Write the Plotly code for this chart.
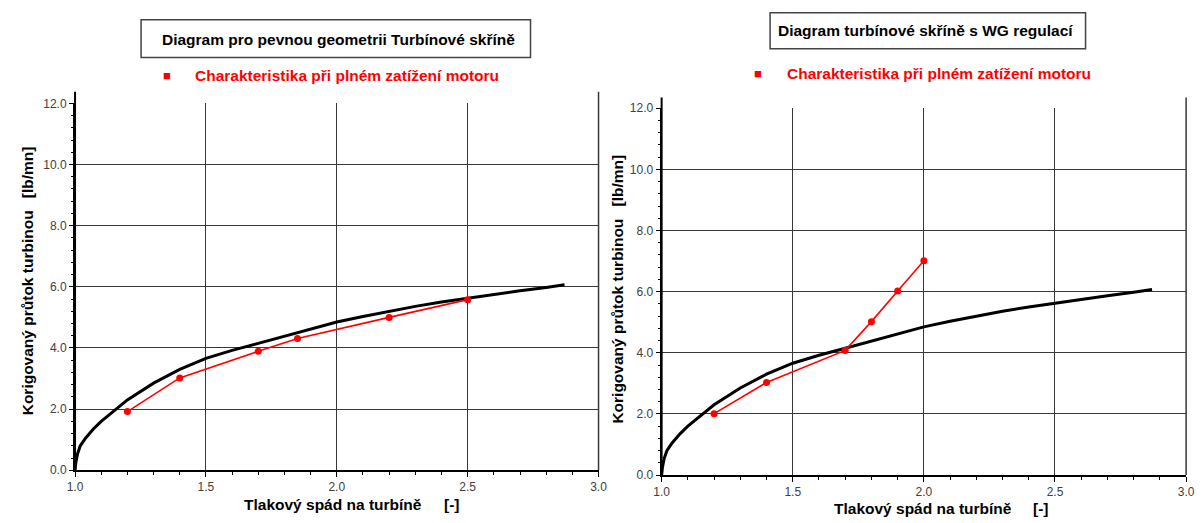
import plotly.graph_objects as go

# ---------------- data ----------------
curve_x = [1.0, 1.003, 1.01, 1.02, 1.04, 1.07, 1.1, 1.15, 1.2, 1.3, 1.4, 1.5, 1.6, 1.7,
           1.8, 1.9, 2.0, 2.1, 2.2, 2.3, 2.4, 2.5, 2.6, 2.7, 2.8, 2.87]
curve_y = [0.0, 0.25, 0.55, 0.8, 1.05, 1.35, 1.6, 1.95, 2.3, 2.85, 3.3, 3.66, 3.92, 4.15,
           4.38, 4.62, 4.85, 5.03, 5.2, 5.36, 5.5, 5.63, 5.75, 5.87, 5.98, 6.07]

fixed_x = [1.2, 1.4, 1.7, 1.85, 2.2, 2.5]
fixed_y = [1.92, 3.02, 3.89, 4.31, 5.0, 5.58]

wg_x = [1.2, 1.4, 1.7, 1.8, 1.9, 2.0]
wg_y = [2.01, 3.03, 4.08, 5.02, 6.02, 7.01]

chart_titles = ["Diagram pro pevnou geometrii Turbínové skříně",
                "Diagram turbínové skříně s WG regulací"]
legend_text = "Charakteristika při plném zatížení motoru"
x_title = "Tlakový spád na turbíně"
x_unit = "[-]"
y_title = "Korigovaný průtok turbinou"
y_unit = "[lb/mn]"

# ---------------- layout helpers ----------------
W, H = 1203, 523
FONT = "Liberation Sans, Arial, sans-serif"
TXT = 15.5
GRID = "#383838"


def px(x):
    return x / W


def py(y):
    return 1 - y / H


fig = go.Figure()

fig.add_trace(go.Scatter(x=curve_x, y=curve_y, mode="lines", xaxis="x", yaxis="y",
                         line=dict(color="black", width=3), showlegend=False))
fig.add_trace(go.Scatter(x=fixed_x, y=fixed_y, mode="lines+markers", xaxis="x", yaxis="y",
                         line=dict(color="#ff0000", width=1.6),
                         marker=dict(color="#ff0000", size=7), showlegend=False))
fig.add_trace(go.Scatter(x=curve_x, y=curve_y, mode="lines", xaxis="x2", yaxis="y2",
                         line=dict(color="black", width=3), showlegend=False))
fig.add_trace(go.Scatter(x=wg_x, y=wg_y, mode="lines+markers", xaxis="x2", yaxis="y2",
                         line=dict(color="#ff0000", width=1.6),
                         marker=dict(color="#ff0000", size=7), showlegend=False))

tickfont = dict(family=FONT, size=12, color="#404040")


def xax(domain, anchor):
    return dict(domain=domain, anchor=anchor, range=[1.0, 3.0], dtick=0.5, tick0=1.0,
                tickformat=".1f", showgrid=True, gridcolor=GRID, gridwidth=1.4,
                zeroline=False, showline=True, linecolor="black", linewidth=1.5,
                ticks="outside", ticklen=5, tickcolor="black", tickwidth=1.2,
                tickfont=tickfont,
                minor=dict(dtick=0.1, ticks="outside", ticklen=3, tickcolor="black",
                           tickwidth=1, showgrid=False))


def yax(domain, anchor):
    return dict(domain=domain, anchor=anchor, range=[0, 12], dtick=2, tick0=0,
                tickformat=".1f", showgrid=True, gridcolor=GRID, gridwidth=1.4,
                zeroline=False, showline=True, linecolor="black", linewidth=2,
                ticks="outside", ticklen=4, tickcolor="black", tickwidth=1.2,
                tickfont=tickfont,
                minor=dict(dtick=0.4, ticks="outside", ticklen=2, tickcolor="black",
                           tickwidth=1, showgrid=False))


shapes = []
annotations = []

panels = [
    dict(xa="x", ya="y", xl=68, xr=599, yt=99, yb=476, ext=12,
         box=(135, 530, 13, 52), title_c=(335, 33),
         leg_sq=(161, 70), leg_tx=(188, 70),
         xt=(330, 511), xu=(450, 511), yt_=(20, 314), yu=(20, 170)),
    dict(xa="x2", ya="y2", xl=663, xr=1195, yt=104, yb=481, ext=11,
         box=(773, 1093, 6, 43), title_c=(931, 24),
         leg_sq=(761, 68), leg_tx=(788, 68),
         xt=(928, 515), xu=(1048, 515), yt_=(618, 323), yu=(618, 178)),
]

layout_axes = {}
for i, p in enumerate(panels):
    suffix = "" if i == 0 else "2"
    layout_axes["xaxis" + suffix] = xax([px(p["xl"]), px(p["xr"])], p["ya"])
    layout_axes["yaxis" + suffix] = yax([py(p["yb"]), py(p["yt"])], p["xa"])
    ext = 1 + p["ext"] / (p["yb"] - p["yt"])
    # axis lines extending above the 12.0 gridline
    shapes.append(dict(type="line", xref=p["xa"] + " domain", yref=p["ya"] + " domain",
                       x0=0, x1=0, y0=0, y1=ext, line=dict(color="black", width=2)))
    shapes.append(dict(type="line", xref=p["xa"] + " domain", yref=p["ya"] + " domain",
                       x0=1, x1=1, y0=0, y1=ext, line=dict(color=GRID, width=1.5)))
    # title box
    bx0, bx1, by0, by1 = p["box"]
    shapes.append(dict(type="rect", xref="paper", yref="paper",
                       x0=px(bx0), x1=px(bx1), y0=py(by1), y1=py(by0),
                       line=dict(color="#444444", width=1.5), fillcolor="white"))
    annotations.append(dict(xref="paper", yref="paper", x=px(p["title_c"][0]),
                            y=py(p["title_c"][1]), text="<b>" + chart_titles[i] + "</b>",
                            showarrow=False, xanchor="center", yanchor="middle",
                            font=dict(family=FONT, size=TXT, color="black")))
    # legend
    annotations.append(dict(xref="paper", yref="paper", x=px(p["leg_sq"][0]),
                            y=py(p["leg_sq"][1]), text="■", showarrow=False,
                            xanchor="center", yanchor="middle",
                            font=dict(family=FONT, size=13, color="#ff0000")))
    annotations.append(dict(xref="paper", yref="paper", x=px(p["leg_tx"][0]),
                            y=py(p["leg_tx"][1]), text="<b>" + legend_text + "</b>",
                            showarrow=False, xanchor="left", yanchor="middle",
                            font=dict(family=FONT, size=TXT, color="#ff0000")))
    # axis titles
    annotations.append(dict(xref="paper", yref="paper", x=px(p["xt"][0]), y=py(p["xt"][1]),
                            text="<b>" + x_title + "</b>", showarrow=False,
                            xanchor="center", yanchor="middle",
                            font=dict(family=FONT, size=TXT, color="black")))
    annotations.append(dict(xref="paper", yref="paper", x=px(p["xu"][0]), y=py(p["xu"][1]),
                            text="<b>" + x_unit + "</b>", showarrow=False,
                            xanchor="center", yanchor="middle",
                            font=dict(family=FONT, size=TXT, color="black")))
    annotations.append(dict(xref="paper", yref="paper", x=px(p["yt_"][0]), y=py(p["yt_"][1]),
                            text="<b>" + y_title + "</b>", showarrow=False, textangle=-90,
                            xanchor="center", yanchor="middle",
                            font=dict(family=FONT, size=TXT, color="black")))
    annotations.append(dict(xref="paper", yref="paper", x=px(p["yu"][0]), y=py(p["yu"][1]),
                            text="<b>" + y_unit + "</b>", showarrow=False, textangle=-90,
                            xanchor="center", yanchor="middle",
                            font=dict(family=FONT, size=TXT, color="black")))

fig.update_layout(
    width=W, height=H, margin=dict(l=0, r=0, t=0, b=0),
    paper_bgcolor="white", plot_bgcolor="white",
    font=dict(family=FONT),
    shapes=shapes, annotations=annotations, showlegend=False,
    **layout_axes,
)

fig.write_html("out.html", config={"displayModeBar": False},
               post_script="document.body.style.margin='0';document.body.style.overflow='hidden';")
